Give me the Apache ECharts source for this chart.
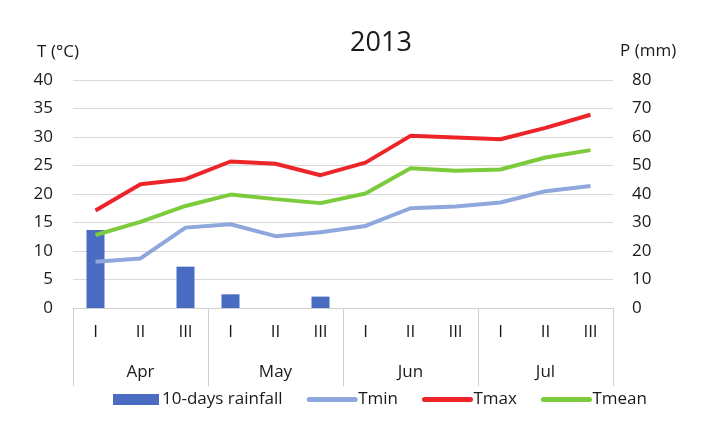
<!DOCTYPE html>
<html><head><meta charset="utf-8">
<script src="https://cdn.jsdelivr.net/npm/echarts@6/dist/echarts.min.js"></script>
<style>html,body{margin:0;padding:0;background:#fff}#c{width:713px;height:438px}</style>
</head><body><div id="c"></div>
<script>
const decades = ['I','II','III','I','II','III','I','II','III','I','II','III'];
const months = ['Apr','May','Jun','Jul'];
const rainfall = [27.4, 0, 14.5, 4.8, 0, 4.0, 0, 0, 0, 0, 0, 0];
const tmin = [8.1, 8.7, 14.1, 14.7, 12.6, 13.3, 14.4, 17.5, 17.8, 18.5, 20.5, 21.4];
const tmax = [17.1, 21.7, 22.6, 25.7, 25.3, 23.3, 25.5, 30.2, 29.9, 29.6, 31.6, 33.9];
const tmean = [12.8, 15.1, 17.9, 19.9, 19.1, 18.4, 20.1, 24.5, 24.1, 24.3, 26.4, 27.7];

const FONT = '"Open Sans", "Noto Sans", sans-serif';
const TXT = '#1a1a1a';
const hideSym = {color: 'rgba(0,0,0,0)', borderWidth: 0};
const chart = echarts.init(document.getElementById('c'));
chart.setOption({
  animation: false,
  textStyle: {fontFamily: FONT},
  title: {text: '2013', left: 376, textAlign: 'center', top: 25,
          textStyle: {fontSize: 27, fontWeight: 'normal', color: TXT, fontFamily: FONT}},
  grid: {left: 73, right: 100, top: 80, bottom: 130},
  legend: {
    top: 386, left: 108, itemGap: 24, itemWidth: 46, itemHeight: 11,
    textStyle: {fontSize: 17, color: TXT, fontFamily: FONT, padding: [0, 0, 0, -2]},
    data: [
      {name: '10-days rainfall', icon: 'rect'},
      {name: 'Tmin', itemStyle: hideSym, lineStyle: {width: 5, cap: 'round'}},
      {name: 'Tmax', itemStyle: hideSym, lineStyle: {width: 5, cap: 'round'}},
      {name: 'Tmean', itemStyle: hideSym, lineStyle: {width: 5, cap: 'round'}}
    ]
  },
  xAxis: [
    {type: 'category', data: decades, position: 'bottom',
     axisLine: {lineStyle: {color: '#d0d0d0', width: 1}},
     axisTick: {show: false},
     axisLabel: {margin: 16, fontSize: 17, color: TXT, interval: 0}},
    {type: 'category', data: months, position: 'bottom',
     axisLine: {show: false},
     axisTick: {show: true, length: 78, lineStyle: {color: '#d0d0d0'}},
     axisLabel: {margin: 56, fontSize: 17, color: TXT}}
  ],
  yAxis: [
    {type: 'value', min: 0, max: 40, interval: 5, name: 'T (°C)', nameGap: 19,
     nameTextStyle: {fontSize: 17, color: TXT, align: 'center', padding: [0, 30, 0, 0]},
     axisLine: {show: false}, axisTick: {show: false},
     axisLabel: {fontSize: 17, color: TXT, margin: 20},
     splitLine: {lineStyle: {color: '#d9d9d9', width: 1}}},
    {type: 'value', min: 0, max: 80, interval: 10, name: 'P (mm)', nameGap: 20,
     nameTextStyle: {fontSize: 17, color: TXT, align: 'left', padding: [0, 0, 0, 7]},
     axisLine: {show: false}, axisTick: {show: false},
     axisLabel: {fontSize: 17, color: TXT, margin: 19},
     splitLine: {show: false}}
  ],
  series: [
    {name: '10-days rainfall', type: 'bar', xAxisIndex: 0, yAxisIndex: 1, data: rainfall,
     barWidth: '40%', itemStyle: {color: '#4a6bc2'}},
    {name: 'Tmin', type: 'line', yAxisIndex: 0, data: tmin, symbol: 'none',
     lineStyle: {color: '#8ea7dc', width: 4}, itemStyle: {color: '#8ea7dc'}},
    {name: 'Tmax', type: 'line', yAxisIndex: 0, data: tmax, symbol: 'none',
     lineStyle: {color: '#ee2528', width: 4}, itemStyle: {color: '#ee2528'}},
    {name: 'Tmean', type: 'line', yAxisIndex: 0, data: tmean, symbol: 'none',
     lineStyle: {color: '#7ccb3c', width: 4}, itemStyle: {color: '#7ccb3c'}}
  ]
});
</script></body></html>
